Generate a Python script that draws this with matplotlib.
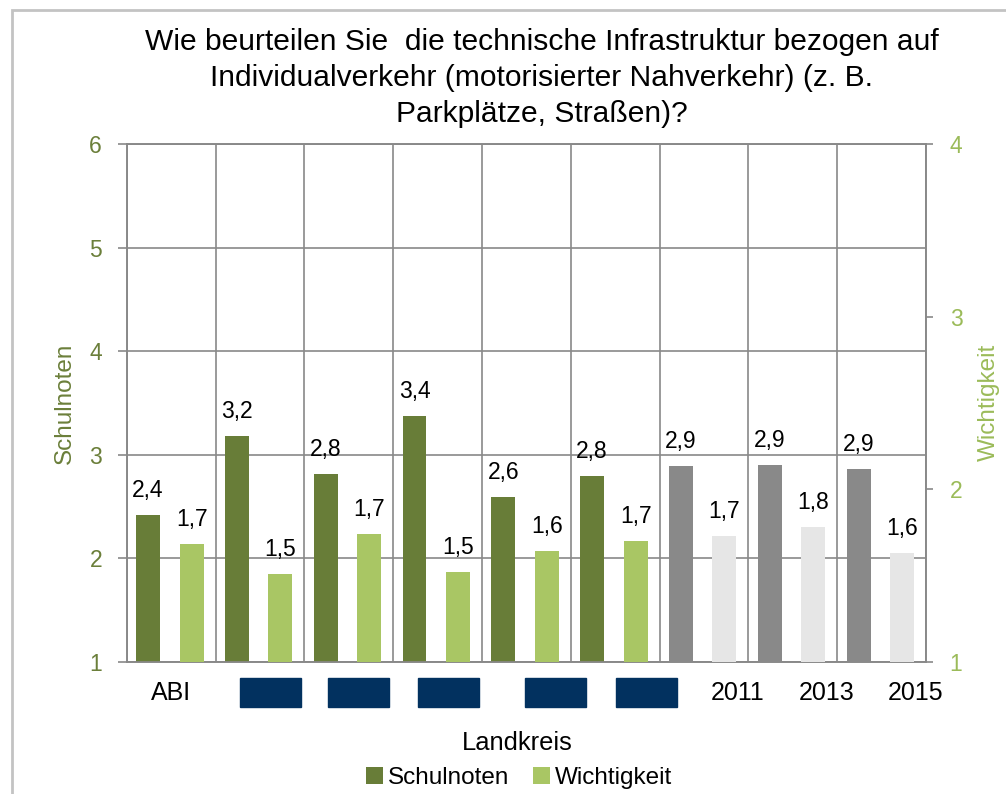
import numpy as np
import matplotlib.pyplot as plt
from matplotlib.patches import Patch, Rectangle
from matplotlib.transforms import ScaledTranslation, blended_transform_factory

plt.rcParams['font.family'] = ['Liberation Sans', 'DejaVu Sans']

# data
categories = ["ABI", "", "", "", "", "", "2011", "2013", "2015"]
schulnoten = [2.42, 3.18, 2.81, 3.37, 2.59, 2.79, 2.89, 2.90, 2.86]
wichtigkeit = [1.68, 1.51, 1.74, 1.52, 1.64, 1.70, 1.73, 1.78, 1.63]
is_year = [False, False, False, False, False, False, True, True, True]

title_lines = ["Wie beurteilen Sie  die technische Infrastruktur bezogen auf",
               "Individualverkehr (motorisierter Nahverkehr) (z. B.",
               "Parkplätze, Straßen)?"]

# colours
dark_green = '#687D38'
light_green = '#A9C664'
dark_gray = '#898989'
light_gray = '#E6E6E6'
olive_text = '#6B7F3A'
green_text = '#9BBB59'
grid_c = '#898989'
navy = '#02315F'

fig = plt.figure(figsize=(10.06, 7.94), dpi=100)
ax = fig.add_axes([0.126, 0.1666, 0.7945, 0.6517])
ax2 = ax.twinx()

x = np.arange(len(categories))
c1 = [dark_gray if y else dark_green for y in is_year]
c2 = [light_gray if y else light_green for y in is_year]

ax.bar(x - 0.26, schulnoten, width=0.27, color=c1, zorder=3)
ax2.bar(x + 0.23, wichtigkeit, width=0.27, color=c2, zorder=3)

for xi, v in zip(x, schulnoten):
    ax.annotate(f"{v:.1f}".replace('.', ','), (xi - 0.26, v), xytext=(0, 13),
                textcoords='offset points', ha='center', va='baseline', fontsize=16.5)
for xi, v in zip(x, wichtigkeit):
    ax2.annotate(f"{v:.1f}".replace('.', ','), (xi + 0.23, v), xytext=(0, 13),
                 textcoords='offset points', ha='center', va='baseline', fontsize=16.5)

# axes, grid
ax.set_xlim(-0.5, 8.5)
ax.set_ylim(1, 6)
ax.set_yticks(range(1, 7))
ax2.set_ylim(1, 4)
ax2.set_yticks(range(1, 5))

ax.set_xticks(x)
ax.set_xticklabels(categories, fontsize=18)
ax.set_xticks(np.arange(-0.5, 9, 1), minor=True)
ax.tick_params(axis='x', which='both', length=0, pad=14)
ax.grid(True, which='minor', axis='x', color=grid_c, lw=1.2)
ax.grid(True, which='major', axis='y', color=grid_c, lw=1.2)
ax.set_axisbelow(True)

ax.tick_params(axis='y', length=6.3, width=1.2, color=grid_c, pad=11.5,
               labelsize=16.5, labelcolor=olive_text)
ax2.tick_params(axis='y', length=5, width=1.2, color=grid_c, pad=12,
                labelsize=16.5, labelcolor=green_text)

for a in (ax, ax2):
    for s in a.spines.values():
        s.set_color(grid_c)
        s.set_linewidth(1.2)

# the year labels sit a bit right of their category
for lbl, yr in zip(ax.get_xticklabels(), is_year):
    if yr:
        lbl.set_transform(lbl.get_transform() + ScaledTranslation(0.34, 0, fig.dpi_scale_trans))

# redacted labels
trans = blended_transform_factory(ax.transData, ax.transAxes)
redact_shift = [0.113, 0.113, 0.12, 0.327, 0.349]
for i, sh in zip(range(1, 6), redact_shift):
    ax.add_patch(Rectangle((i + sh - 0.343, -0.0876), 0.687, 0.056, transform=trans,
                           clip_on=False, color=navy, zorder=5))

# text
fig.text(65 / 1006, 1 - 403 / 794, "Schulnoten", rotation=90, ha='center', va='center',
         fontsize=17.5, color=olive_text)
fig.text(989 / 1006, 1 - 402 / 794, "Wichtigkeit", rotation=90, ha='center', va='center',
         fontsize=17.5, color=green_text)

for line, base in zip(title_lines, [50, 86, 121.7]):
    fig.text(0.5383, 1 - base / 794, line, ha='center', va='baseline', fontsize=21.6)

fig.text(517 / 1006, 1 - 750 / 794, "Landkreis", ha='center', va='baseline', fontsize=18.4)

handles = [Patch(facecolor=dark_green), Patch(facecolor=light_green)]
fig.legend(handles, ["Schulnoten", "Wichtigkeit"], loc='center', ncol=2,
           bbox_to_anchor=(519 / 1006, 1 - 778 / 794), frameon=False, fontsize=17.5,
           handlelength=0.7, handleheight=0.7, handletextpad=0.2, columnspacing=0.95)

# chart frame
fig.add_artist(Rectangle((12 / 1006, -0.1), 1.2, 0.9874 + 0.1, transform=fig.transFigure,
                         fill=False, edgecolor='#C3C3C3', lw=2))

fig.savefig('out.png', dpi=100)
